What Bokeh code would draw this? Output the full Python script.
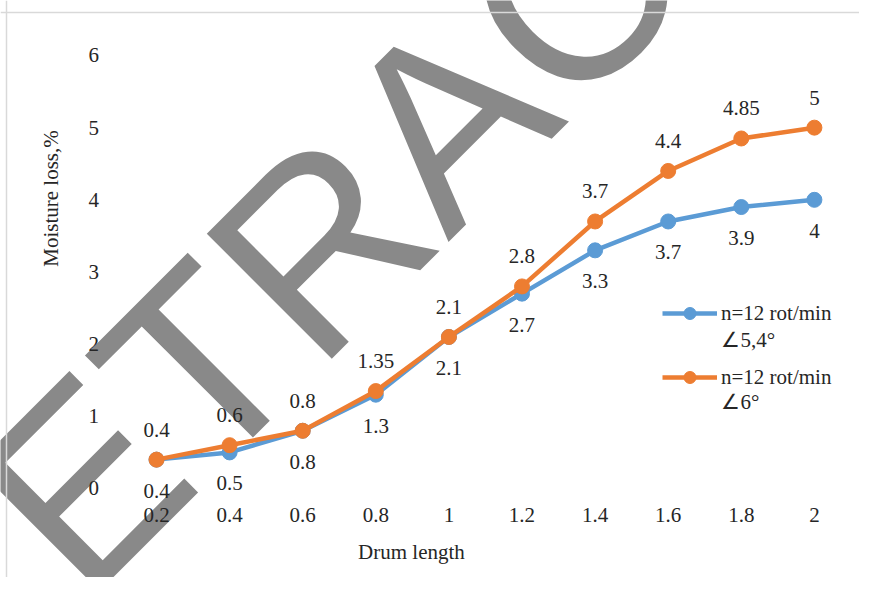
import math
from bokeh.plotting import figure
from bokeh.models import (Range1d, Label, Legend, LegendItem, ColumnDataSource,
                          FixedTicker, LinearAxis, Span)
from bokeh.embed import file_html
from bokeh.resources import INLINE
from bokeh.core.properties import value

# ---- data ----
drum_length = ["0.2", "0.4", "0.6", "0.8", "1", "1.2", "1.4", "1.6", "1.8", "2"]
loss_54 = [0.4, 0.5, 0.8, 1.3, 2.1, 2.7, 3.3, 3.7, 3.9, 4]
loss_6 = [0.4, 0.6, 0.8, 1.35, 2.1, 2.8, 3.7, 4.4, 4.85, 5]
y_ticks = [0, 1, 2, 3, 4, 5, 6]
series_line1 = ["n=12 rot/min", "n=12 rot/min"]
series_line2 = ["\u22205,4\u00b0", "\u22206\u00b0"]
x_title = "Drum length"
y_title = "Moisture loss,%"
watermark = "RETRACTED"

BLUE = "#5B9BD5"
ORANGE = "#ED7D31"
TXT = "#262626"
SERIF = "Liberation Serif"
FS = "21px"

# category slots (one per drum length) on the x axis
x_pos = list(range(len(drum_length)))

p = figure(width=859, height=577, x_range=Range1d(-2.1341, 9.6170), y_range=Range1d(-1.2332, 6.7618),
           output_backend="svg", toolbar_location=None, x_axis_type=None, y_axis_type=None,
           min_border=0, min_border_left=0, min_border_right=0, min_border_top=0, min_border_bottom=0)
p.outline_line_color = None
p.xgrid.visible = False
p.ygrid.visible = False
p.background_fill_color = "white"
p.border_fill_color = "white"

# watermark
p.add_layout(Label(x=3.953, y=5.127, text=watermark, angle=math.pi / 4,
                   text_font="Liberation Sans", text_font_size="257px",
                   text_color="#898989", text_align="center", text_baseline="alphabetic",
                   level="underlay"))

# chart area border (top and left edges)
p.add_layout(Span(location=6.596, dimension="width", line_color="#D9D9D9", line_width=1.5))
p.add_layout(Span(location=-2.052, dimension="height", line_color="#D9D9D9", line_width=1.5))

src_b = ColumnDataSource(dict(x=x_pos, y=loss_54, lab=[f"{v:g}" for v in loss_54]))
src_o = ColumnDataSource(dict(x=x_pos, y=loss_6, lab=[f"{v:g}" for v in loss_6]))

lb = p.line("x", "y", source=src_b, line_color=BLUE, line_width=4.5)
sb = p.scatter("x", "y", source=src_b, size=15, fill_color=BLUE, line_color=BLUE)
lo = p.line("x", "y", source=src_o, line_color=ORANGE, line_width=4.5)
so = p.scatter("x", "y", source=src_o, size=15, fill_color=ORANGE, line_color=ORANGE)

p.text("x", "y", text="lab", source=src_b, y_offset=31, text_align="center",
       text_baseline="middle", text_font=value(SERIF), text_font_size=FS, text_color=TXT)
p.text("x", "y", text="lab", source=src_o, y_offset=-30, text_align="center",
       text_baseline="middle", text_font=value(SERIF), text_font_size=FS, text_color=TXT)

# axes drawn at fixed locations inside the canvas
xax = LinearAxis(ticker=FixedTicker(ticks=x_pos),
                 major_label_overrides={i: s for i, s in zip(x_pos, drum_length)},
                 fixed_location=0, major_label_standoff=14)
yax = LinearAxis(ticker=FixedTicker(ticks=y_ticks), fixed_location=-0.5, major_label_standoff=15)
for ax in (xax, yax):
    ax.axis_line_color = None
    ax.major_tick_line_color = None
    ax.minor_tick_line_color = None
    ax.major_label_text_font = SERIF
    ax.major_label_text_font_size = FS
    ax.major_label_text_color = TXT
p.add_layout(xax, "below")
p.add_layout(yax, "left")

p.add_layout(Label(x=3.488, y=-0.873, text=x_title, text_align="center", text_baseline="middle",
                   text_font=SERIF, text_font_size=FS, text_color=TXT))
p.add_layout(Label(x=-1.450, y=4.018, text=y_title, angle=math.pi / 2, text_align="center",
                   text_baseline="middle", text_font=SERIF, text_font_size=FS, text_color=TXT))

# legend
legend = Legend(items=[LegendItem(label=series_line1[0], renderers=[lb, sb]),
                       LegendItem(label=series_line1[1], renderers=[lo, so])],
                location=(662, 185), orientation="vertical", padding=0, margin=0,
                spacing=34, glyph_width=55, glyph_height=30, label_height=30,
                label_standoff=4, border_line_color=None, background_fill_alpha=0,
                label_text_font=SERIF, label_text_font_size=FS, label_text_color=TXT)
p.add_layout(legend)
p.add_layout(Label(x=7.729, y=2.051, text=series_line2[0], text_align="left", text_baseline="middle",
                   text_font=SERIF, text_font_size=FS, text_color=TXT))
p.add_layout(Label(x=7.729, y=1.196, text=series_line2[1], text_align="left", text_baseline="middle",
                   text_font=SERIF, text_font_size=FS, text_color=TXT))

open("out.html", "w").write(file_html(p, INLINE))
